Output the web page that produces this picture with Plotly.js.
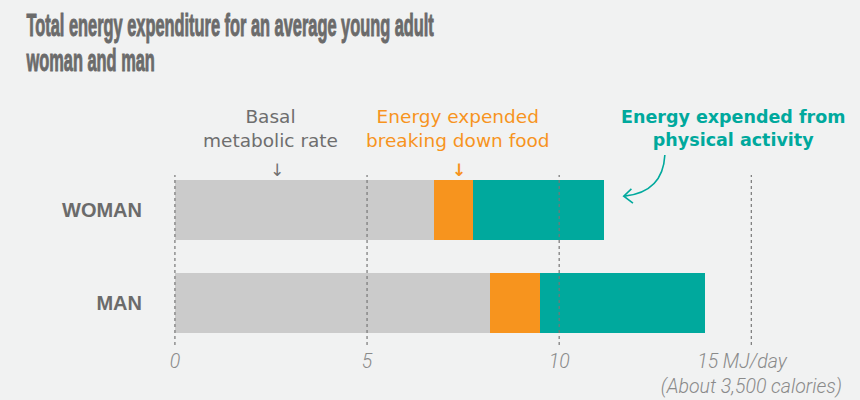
<!DOCTYPE html>
<html>
<head>
<meta charset="utf-8">
<script src="https://cdn.plot.ly/plotly-3.0.1.min.js"></script>
<style>
  html, body { margin: 0; padding: 0; background: #f1f2f2; }
  #chart { width: 860px; height: 400px; }
</style>
</head>
<body>
<div id="chart"></div>
<script>
// ---- data ----
const categories = ['MAN', 'WOMAN'];
const basalMetabolic = [8.2, 6.75];      // MJ/day
const breakingDownFood = [1.3, 1.02];    // MJ/day
const physicalActivity = [4.3, 3.4];     // MJ/day
const tickValues = [0, 5, 10, 15];
const tickLabels = ['0', '5', '10', '15 MJ/day\u00a0\u00a0\u00a0\u00a0<br>(About 3,500 calories)'];
const seriesNames = ['Basal metabolic rate', 'Energy expended breaking down food', 'Energy expended from physical activity'];

const GRAY = '#cbcbcb', ORANGE = '#f7941e', TEAL = '#00a99d', TEXT = '#6b6b6b';

function barTrace(vals, name, color) {
  return {
    type: 'bar', orientation: 'h', y: categories, x: vals, name: name,
    marker: { color: color, line: { width: 0 } }, width: 0.645, hoverinfo: 'skip'
  };
}

const data = [
  barTrace(basalMetabolic, seriesNames[0], GRAY),
  barTrace(breakingDownFood, seriesNames[1], ORANGE),
  barTrace(physicalActivity, seriesNames[2], TEAL)
];

const gridShapes = tickValues.map(v => ({
  type: 'line', xref: 'x', yref: 'paper', x0: v, x1: v, y0: 0, y1: 1,
  layer: 'above', line: { color: '#777777', width: 1.2, dash: 'dot' }
}));

const arrowShapes = [
  { type: 'path', xref: 'x', yref: 'paper', layer: 'above',
    path: 'M 12.75 1.118 Q 12.7 0.90 11.7 0.876',
    line: { color: TEAL, width: 1.6 } },
  { type: 'path', xref: 'x', yref: 'paper', layer: 'above',
    path: 'M 11.88 0.918 L 11.68 0.876 L 11.92 0.835',
    line: { color: TEAL, width: 1.6 } }
];

const annFont = { family: 'DejaVu Sans, sans-serif', size: 18.5 };
const annotations = [
  { xref: 'x', yref: 'paper', x: 2.5, y: 1.276, yanchor: 'middle', showarrow: false, align: 'center',
    text: 'Basal<br>metabolic rate', font: Object.assign({}, annFont, { color: '#6e6e6e' }) },
  { xref: 'x', yref: 'paper', x: 2.66, y: 1.03, yanchor: 'middle', showarrow: false,
    text: '↓', font: { family: 'DejaVu Sans', size: 17, color: '#707070' } },
  { xref: 'x', yref: 'paper', x: 7.37, y: 1.276, yanchor: 'middle', showarrow: false, align: 'center',
    text: 'Energy expended<br>breaking down food', font: Object.assign({}, annFont, { color: ORANGE }) },
  { xref: 'x', yref: 'paper', x: 7.38, y: 1.03, yanchor: 'middle', showarrow: false,
    text: '<b>↓</b>', font: { family: 'DejaVu Sans', size: 17, color: ORANGE } },
  { xref: 'x', yref: 'paper', x: 14.53, y: 1.276, yanchor: 'middle', showarrow: false, align: 'center',
    text: '<b>Energy expended from<br>physical activity</b>', font: Object.assign({}, annFont, { color: TEAL, size: 17.5 }) }
];

const layout = {
  width: 860, height: 400,
  paper_bgcolor: '#f1f2f2', plot_bgcolor: '#f1f2f2',
  margin: { l: 173, r: 101, t: 175, b: 55 },
  barmode: 'stack', showlegend: false,
  title: {
    text: 'Total energy expenditure for an average young adult<br>woman and man',
    font: { family: 'Liberation Sans Narrow, Liberation Sans, Arial Narrow, sans-serif', size: 31, color: TEXT, weight: 700 },
    x: 27 / 860, xref: 'container', xanchor: 'left', y: 0.925, yanchor: 'top', yref: 'container'
  },
  xaxis: {
    range: [-0.05, 15.2], showgrid: false, zeroline: false, showline: false,
    tickmode: 'array', tickvals: tickValues, ticktext: tickLabels, ticks: '',
    tickfont: { family: 'Roboto, sans-serif', size: 19.5, color: '#8a8a8a', style: 'italic', weight: 300 },
    ticklabelstandoff: 2, fixedrange: true
  },
  yaxis: {
    type: 'category', categoryorder: 'array', categoryarray: categories,
    range: [-0.452, 1.376], showgrid: false, zeroline: false, showline: false, ticks: '',
    tickfont: { family: 'Liberation Sans, Arial, sans-serif', size: 20, color: TEXT, weight: 700 },
    ticklabelstandoff: 30, fixedrange: true
  },
  shapes: gridShapes.concat(arrowShapes),
  annotations: annotations
};

Plotly.newPlot('chart', data, layout, { displayModeBar: false, staticPlot: true }).then(gd => {
  // condense the title to match the narrow display face of the original
  const t = gd.querySelector('.gtitle');
  if (t) {
    t.style.stroke = TEXT;
    t.style.strokeWidth = '1px';
    t.style.paintOrder = 'stroke';
    // tighten line spacing (35px between baselines)
    const lines = t.querySelectorAll('tspan.line');
    lines.forEach(l => {
      const dy = l.getAttribute('dy');
      if (dy && dy.endsWith('em')) {
        const v = parseFloat(dy);
        if (v) l.setAttribute('dy', (v * 1.13 / 1.3) + 'em');
      }
    });
    const bb = t.getBBox();
    const sx = 408 / bb.width;
    const x0 = bb.x;
    const baseY = parseFloat(t.getAttribute('y')) || 0;
    const ty = 36 - baseY;
    t.setAttribute('transform', `translate(${x0},${ty}) scale(${sx},1) translate(${-x0},0)`);
  }
});
</script>
</body>
</html>
